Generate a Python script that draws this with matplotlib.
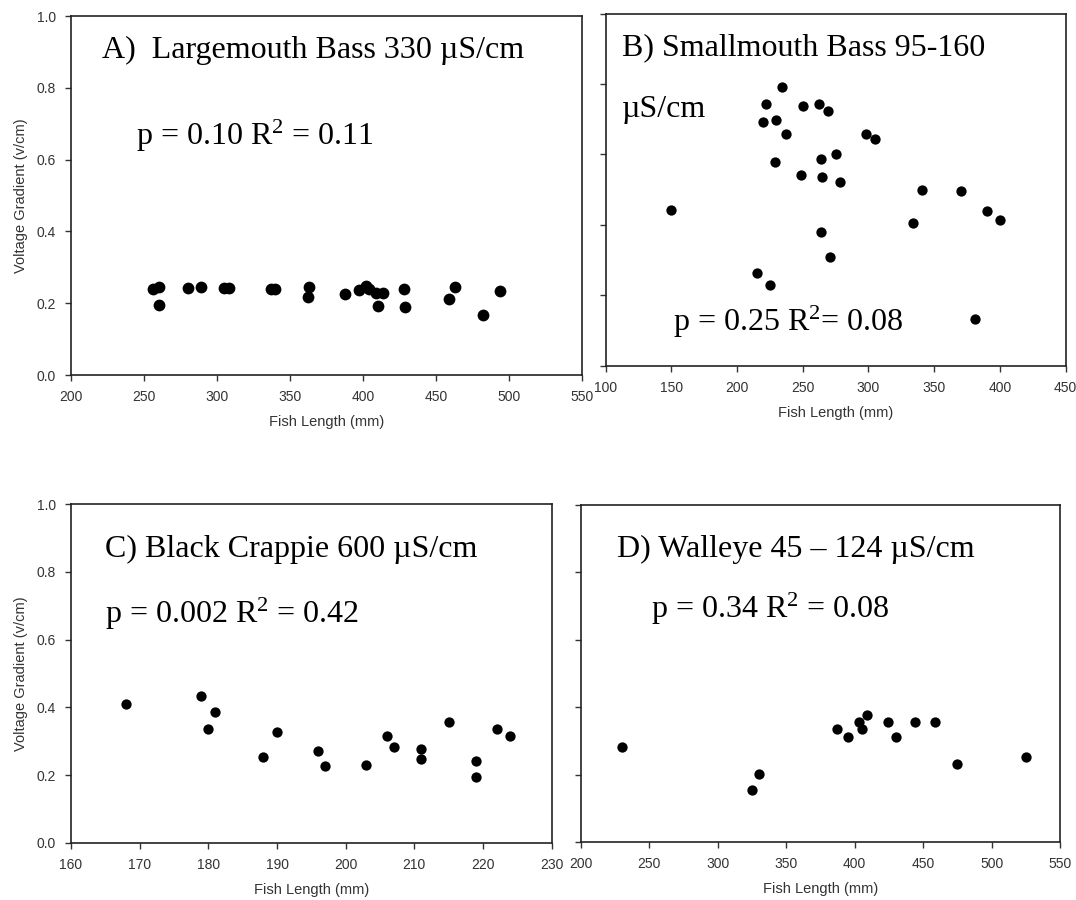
import matplotlib.pyplot as plt

W, H = 1076, 900

# A) Largemouth bass
bass_len = [256, 260, 260, 280, 289, 305, 308, 337, 340, 363, 362, 388, 397, 402,
            404, 409, 410, 414, 428, 429, 459, 463, 482, 494]
bass_vg = [0.240, 0.246, 0.194, 0.241, 0.244, 0.242, 0.242, 0.240, 0.240, 0.245,
           0.217, 0.227, 0.237, 0.247, 0.240, 0.229, 0.192, 0.229, 0.239, 0.190,
           0.213, 0.245, 0.166, 0.233]

# B) Smallmouth bass
smb_len = [150, 234, 222, 220, 230, 237, 250, 262, 269, 229, 249, 264, 275, 265,
           278, 298, 305, 341, 370, 334, 390, 400, 264, 271, 215, 225, 381]
smb_vg = [0.443, 0.791, 0.744, 0.691, 0.699, 0.659, 0.737, 0.744, 0.724, 0.578,
          0.542, 0.586, 0.602, 0.536, 0.522, 0.659, 0.645, 0.499, 0.496, 0.405,
          0.440, 0.413, 0.379, 0.308, 0.262, 0.229, 0.132]

# C) Black crappie
crap_len = [168, 179, 181, 180, 188, 190, 196, 197, 203, 206, 207, 211, 211, 215,
            219, 219, 222, 224]
crap_vg = [0.409, 0.433, 0.386, 0.335, 0.255, 0.326, 0.270, 0.228, 0.230, 0.317,
           0.282, 0.277, 0.248, 0.358, 0.243, 0.194, 0.335, 0.317]

# D) Walleye
wall_len = [230, 325, 330, 387, 395, 403, 405, 409, 424, 430, 444, 459, 475, 525]
wall_vg = [0.281, 0.154, 0.203, 0.334, 0.312, 0.356, 0.334, 0.378, 0.356, 0.312,
           0.356, 0.356, 0.230, 0.251]

plt.rcParams['mathtext.fontset'] = 'custom'
plt.rcParams['mathtext.rm'] = 'Liberation Serif'
plt.rcParams['mathtext.it'] = 'Liberation Serif:italic'

sans = 'Liberation Sans'
serif = 'Liberation Serif'
grey = '#333333'


def box(l, t, r, b):
    return [l / W, 1 - b / H, (r - l) / W, (b - t) / H]


def fx(x):
    return x / W


def fy(y):
    return 1 - y / H


fig = plt.figure(figsize=(W / 100, H / 100), dpi=100)


def panel(rect, xs, ys, xlim, xticks, ylabels=True, size=55):
    ax = fig.add_axes(box(*rect))
    ax.scatter(xs, ys, s=size, color='black', zorder=3, linewidths=0)
    ax.set_xlim(*xlim)
    ax.set_ylim(0, 1.0)
    ax.set_xticks(xticks)
    ax.set_yticks([0, 0.2, 0.4, 0.6, 0.8, 1.0])
    if ylabels:
        ax.set_yticklabels(['0.0', '0.2', '0.4', '0.6', '0.8', '1.0'])
        ax.set_ylabel('Voltage Gradient (v/cm)', fontfamily=sans, fontsize=10.5,
                      color=grey, labelpad=6)
    else:
        ax.set_yticklabels([])
    ax.set_xlabel('Fish Length (mm)', fontfamily=sans, fontsize=10.5,
                  color=grey, labelpad=8)
    ax.tick_params(direction='out', length=4, width=1.0, color=grey,
                   labelsize=10, labelcolor=grey, pad=7)
    for lab in ax.get_xticklabels() + ax.get_yticklabels():
        lab.set_fontfamily(sans)
    for sp in ax.spines.values():
        sp.set_linewidth(1.2)
        sp.set_color('#222222')
    return ax


panel((71, 16, 582, 375), bass_len, bass_vg, (200, 550),
      [200, 250, 300, 350, 400, 450, 500, 550], size=72)
panel((605.5, 13.7, 1065.7, 365.5), smb_len, smb_vg, (100, 450),
      [100, 150, 200, 250, 300, 350, 400, 450], ylabels=False)
panel((71, 504, 551.7, 843), crap_len, crap_vg, (160, 230),
      [160, 170, 180, 190, 200, 210, 220, 230])
panel((581, 505, 1060, 842), wall_len, wall_vg, (200, 550),
      [200, 250, 300, 350, 400, 450, 500, 550], ylabels=False)

tsize = 23
labels = [
    (102, 58, 'A)  Largemouth Bass 330 \u00b5S/cm'),
    (136, 145, r'p = 0.10 R$^2$ = 0.11'),
    (621.7, 55, 'B) Smallmouth Bass 95-160'),
    (621.7, 117, '\u00b5S/cm'),
    (673, 331, r'p = 0.25 R$^2$= 0.08'),
    (104.6, 556.7, 'C) Black Crappie 600 \u00b5S/cm'),
    (104.6, 623, r'p = 0.002 R$^2$ = 0.42'),
    (617.3, 556.7, 'D) Walleye 45 \u2013 124 \u00b5S/cm'),
    (650.7, 618, r'p = 0.34 R$^2$ = 0.08'),
]
for x, y, s in labels:
    fig.text(fx(x), fy(y), s, fontfamily=serif, fontsize=tsize,
             ha='left', va='baseline', color='black')

fig.savefig('out.png', dpi=100)
